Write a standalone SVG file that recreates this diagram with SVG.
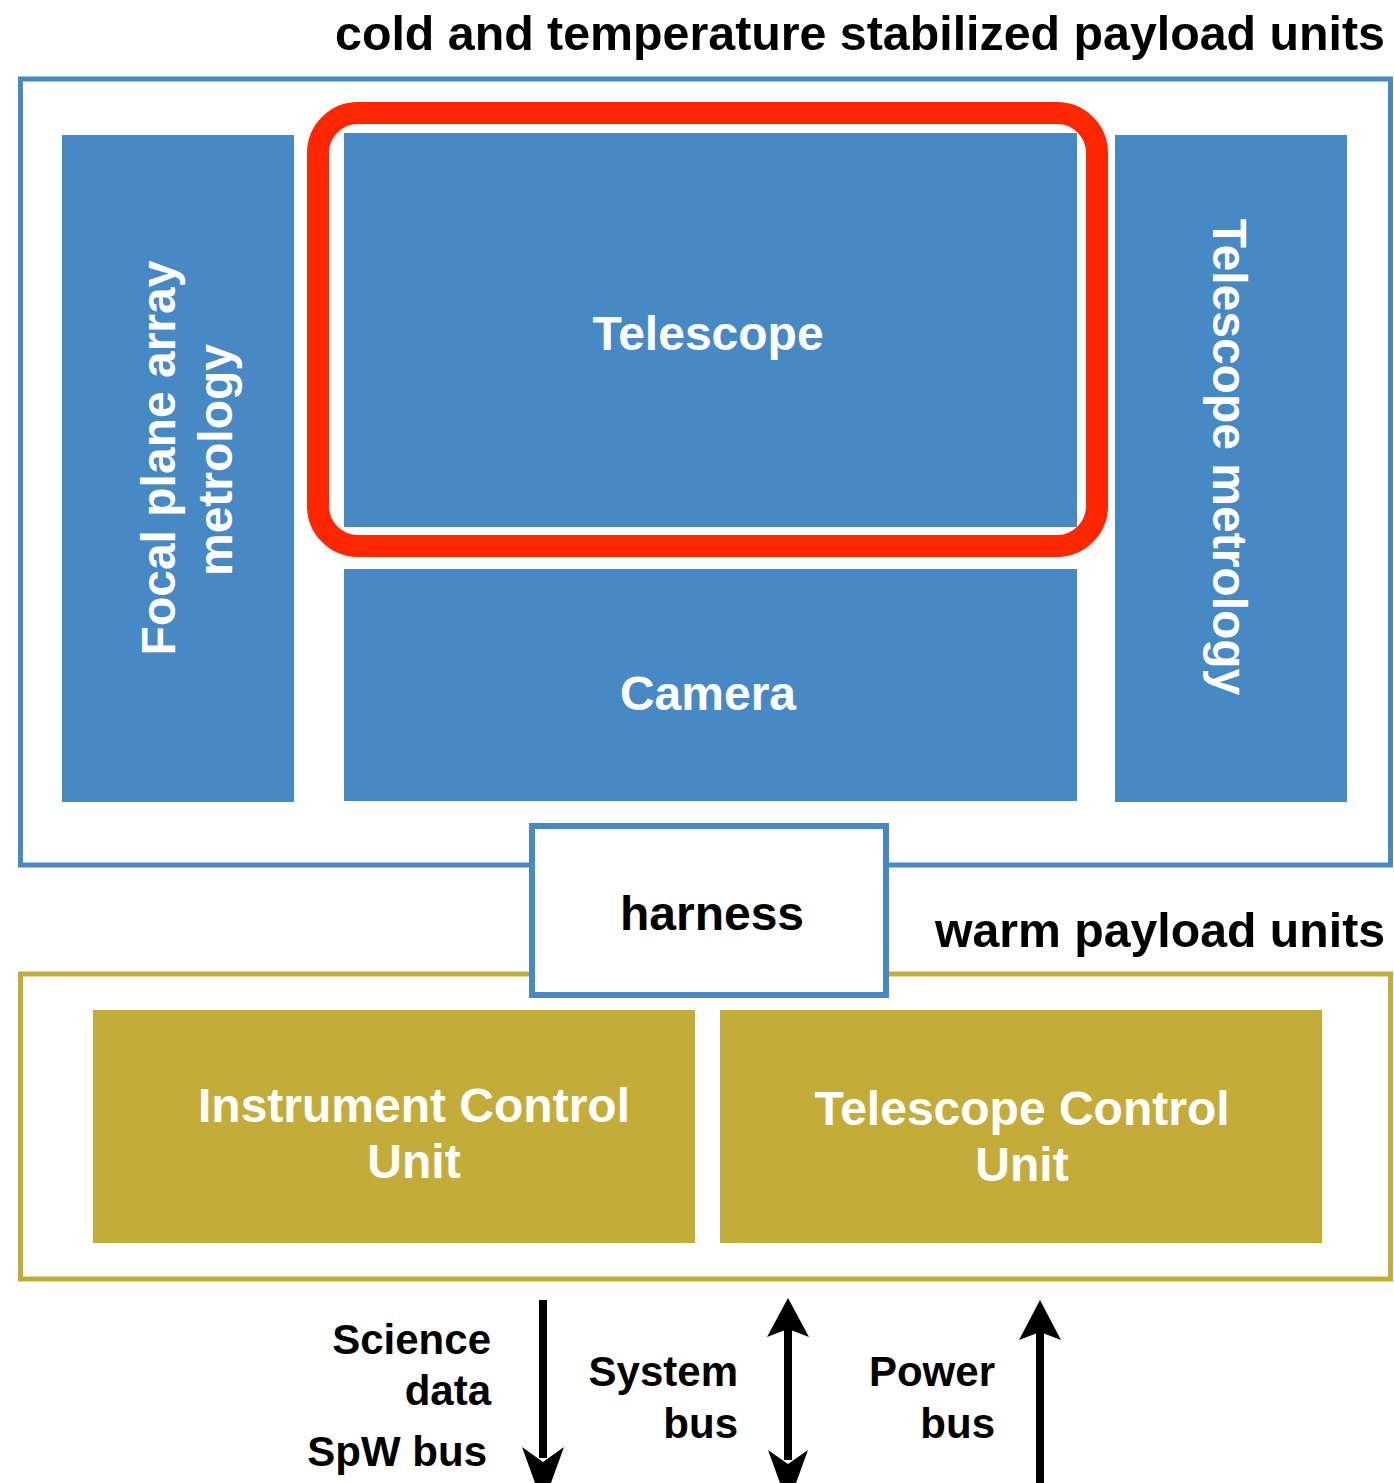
<svg xmlns="http://www.w3.org/2000/svg" width="1394" height="1483" viewBox="0 0 1394 1483">
<style>
.lbl{font-family:"Liberation Sans",Arial,sans-serif;font-weight:bold;}
.w{fill:#ffffff;font-size:48px;text-anchor:middle;}
.k{fill:#000000;font-size:48px;}
.s{fill:#000000;font-size:42px;text-anchor:end;}
.blue{fill:#4689C4;}
.gold{fill:#C3AD38;}
.frameB{fill:none;stroke:#4689C4;stroke-width:5;}
.frameG{fill:none;stroke:#C3AD38;stroke-width:5;}
.shaft{stroke:#000;stroke-width:8;fill:none;}
.head{fill:#000;}
</style>
<rect x="0" y="0" width="1394" height="1483" fill="#ffffff"/>
<g id="cold-frame">
<rect class="frameB" x="20.5" y="79" width="1370" height="786"/>
<text class="lbl k" x="335" y="50" textLength="1050" lengthAdjust="spacingAndGlyphs">cold and temperature stabilized payload units</text>
</g>
<g id="warm-frame">
<rect class="frameG" x="20.5" y="974" width="1370" height="305"/>
<text class="lbl k" x="935" y="947" textLength="450" lengthAdjust="spacingAndGlyphs">warm payload units</text>
</g>
<g id="focal-plane-metrology">
<rect class="blue" x="62" y="135" width="232" height="667"/>
<text class="lbl w" transform="translate(175,458) rotate(-90)">Focal plane array</text>
<text class="lbl w" transform="translate(232,460) rotate(-90)">metrology</text>
</g>
<g id="telescope">
<rect class="blue" x="344" y="133" width="733" height="394"/>
<text class="lbl w" x="708" y="350">Telescope</text>
</g>
<g id="highlight">
<rect x="318" y="113" width="779" height="433" rx="40" ry="40" fill="none" stroke="#FF2600" stroke-width="22"/>
</g>
<g id="camera">
<rect class="blue" x="344" y="569" width="733" height="232"/>
<text class="lbl w" x="708" y="710">Camera</text>
</g>
<g id="telescope-metrology">
<rect class="blue" x="1115" y="135" width="232" height="667"/>
<text class="lbl w" transform="translate(1213,457) rotate(90)">Telescope metrology</text>
</g>
<g id="harness">
<rect x="532" y="826" width="354" height="169" fill="#ffffff" stroke="#4689C4" stroke-width="6"/>
<text class="lbl k" x="712" y="930" text-anchor="middle">harness</text>
</g>
<g id="icu">
<rect class="gold" x="93" y="1010" width="602" height="233"/>
<text class="lbl w" x="414" y="1122">Instrument Control</text>
<text class="lbl w" x="414" y="1178">Unit</text>
</g>
<g id="tcu">
<rect class="gold" x="720" y="1010" width="602" height="233"/>
<text class="lbl w" x="1022" y="1125">Telescope Control</text>
<text class="lbl w" x="1022" y="1181">Unit</text>
</g>
<g id="connectors">
<line class="shaft" x1="543" y1="1300" x2="543" y2="1458"/>
<path class="head" d="M543,1505 L522,1447 L543,1462 L564,1447 Z"/>
<line class="shaft" x1="788" y1="1326" x2="788" y2="1460"/>
<path class="head" d="M788,1298 L767,1337 L788,1329 L809,1337 Z"/>
<path class="head" d="M788,1505 L768,1450 L788,1464 L808,1450 Z"/>
<line class="shaft" x1="1040" y1="1330" x2="1040" y2="1483"/>
<path class="head" d="M1040,1300 L1019,1340 L1040,1332 L1061,1340 Z"/>
</g>
<g id="bus-labels">
<text class="lbl s" x="491" y="1354">Science</text>
<text class="lbl s" x="491" y="1405">data</text>
<text class="lbl s" x="487" y="1466">SpW bus</text>
<text class="lbl s" x="738" y="1386">System</text>
<text class="lbl s" x="738" y="1438">bus</text>
<text class="lbl s" x="995" y="1386">Power</text>
<text class="lbl s" x="995" y="1438">bus</text>
</g>
</svg>
